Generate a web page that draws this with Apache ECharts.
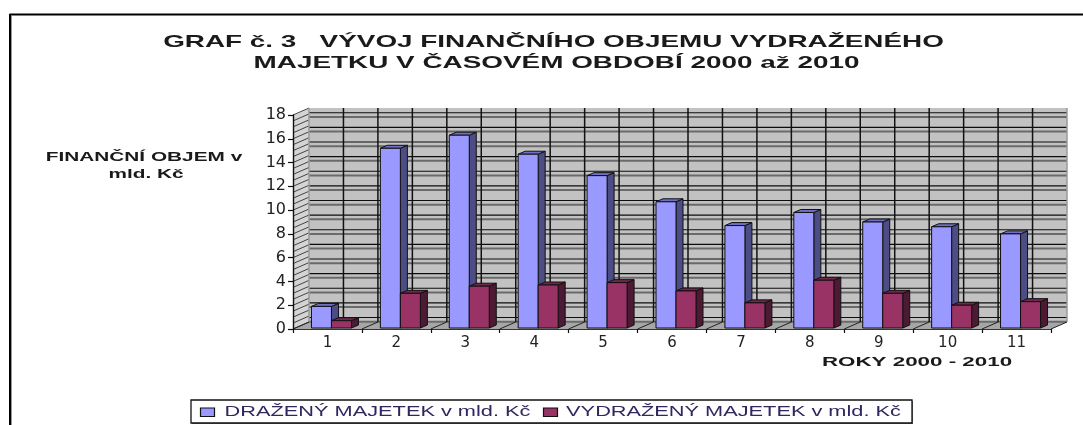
<!DOCTYPE html>
<html><head><meta charset="utf-8">
<style>html,body{margin:0;padding:0;background:#fff}#c{width:1083px;height:425px}</style>
<script src="https://cdn.jsdelivr.net/npm/echarts@6/dist/echarts.min.js"></script>
</head><body><div id="c"></div>
<script>
const categories = ['1','2','3','4','5','6','7','8','9','10','11'];
const drazeny = [1.9,15.2,16.3,14.7,12.9,10.7,8.7,9.8,9.0,8.6,8.0];
const vydrazeny = [0.7,3.0,3.6,3.7,3.9,3.2,2.2,4.1,3.0,2.0,2.3];
const sideLevels = [0,0.5,1,1.5,2,2.5,3,3.5,4,4.5,5,5.5,6,6.5,7,7.5,8,8.5,9,9.5,10,10.5,11,11.5,12,12.5,13,13.5,14,14.5,15,15.5,16,16.5,17,17.5,18];
const wallBlack = [17.6,16.37,15.14,13.91,12.68,11.45,10.22,8.99,7.76,6.53,5.3,4.07,2.84,1.61,0.38];
const wallGray = [17.25,16.02,14.79,13.56,12.33,11.1,9.87,8.64,7.41,6.18,4.95,3.72,2.49,1.26,0.03];
const titleLines = ['GRAF č. 3   VÝVOJ FINANČNÍHO OBJEMU VYDRAŽENÉHO','MAJETKU V ČASOVÉM OBDOBÍ 2000 až 2010'];
const yName = ['FINANČNÍ OBJEM v','mld. Kč'];
const xName = 'ROKY 2000 - 2010';
const seriesNames = ['DRAŽENÝ MAJETEK v mld. Kč','VYDRAŽENÝ MAJETEK v mld. Kč'];
const seriesColors = ['#9999ff','#993366'];

const WALL_DX = 16, WALL_DY = -7, BAR_DX = 7, BAR_DY = -3, BAR_W = 20, BAR_SHIFT = 4;

function wallItem(params, api){
  const cs = params.coordSys, kids = [];
  const x0 = cs.x, x1 = cs.x + cs.width;
  const yb = cs.y + cs.height, yt = cs.y;
  const poly = (pts, fill) => ({type:'polygon',shape:{points:pts},style:{fill,stroke:null},silent:true});
  kids.push(poly([[x0+WALL_DX,yt+WALL_DY],[x1+WALL_DX,yt+WALL_DY],[x1+WALL_DX,yb+WALL_DY],[x0+WALL_DX,yb+WALL_DY]],'#c2c2c2'));
  kids.push(poly([[x0,yt],[x0+WALL_DX,yt+WALL_DY],[x0+WALL_DX,yb+WALL_DY],[x0,yb]],'#d4d4d4'));
  kids.push(poly([[x0,yb],[x0+WALL_DX,yb+WALL_DY],[x1+WALL_DX,yb+WALL_DY],[x1,yb]],'#a6a6a6'));
  const hline = (v,stroke,lineWidth) => {
    const y = api.coord([0,v])[1];
    kids.push({type:'line',shape:{x1:x0+WALL_DX,y1:y+WALL_DY,x2:x1+WALL_DX,y2:y+WALL_DY},style:{stroke,lineWidth},silent:true});
  };
  wallGray.forEach(v => hline(v,'#6a6a6a',2));
  wallBlack.forEach(v => hline(v,'#0d0d0d',1.2));
  sideLevels.forEach(v => {
    const y = api.coord([0,v])[1];
    kids.push({type:'line',shape:{x1:x0,y1:y,x2:x0+WALL_DX,y2:y+WALL_DY},style:{stroke:'#333',lineWidth:0.9},silent:true});
  });
  const band = cs.width / categories.length;
  for(let i=0;i<=categories.length*2;i++){
    const x = x0 + WALL_DX + i*band/2;
    const edge = i===categories.length*2;
    kids.push({type:'line',shape:{x1:x,y1:yt+WALL_DY,x2:x,y2:yb+WALL_DY},
      style:{stroke:edge||i===0?'#9a9a9a':'#111',lineWidth:1.5},silent:true});
  }
  for(let i=0;i<=categories.length;i++){
    const x = x0 + i*band;
    kids.push({type:'line',shape:{x1:x,y1:yb,x2:x+WALL_DX,y2:yb+WALL_DY},style:{stroke:'#222',lineWidth:1},silent:true});
  }
  return {type:'group',children:kids};
}
function barItem(side, front, dark, top){
  return function(params, api){
    const i = api.value(0), v = api.value(1);
    const p = api.coord([i,v]), b = api.coord([i,0]);
    const xl = (side===0 ? p[0]-BAR_W : p[0]) + BAR_SHIFT, xr = xl + BAR_W;
    const yt = p[1], yb = b[1]-1;
    const st = f => ({fill:f,stroke:'#111',lineWidth:1});
    return {type:'group',children:[
      {type:'polygon',shape:{points:[[xr,yt],[xr+BAR_DX,yt+BAR_DY],[xr+BAR_DX,yb+BAR_DY],[xr,yb]]},style:st(dark)},
      {type:'polygon',shape:{points:[[xl,yt],[xl+BAR_DX,yt+BAR_DY],[xr+BAR_DX,yt+BAR_DY],[xr,yt]]},style:st(top)},
      {type:'rect',shape:{x:xl,y:yt,width:BAR_W,height:yb-yt},style:st(front)}
    ]};
  };
}
const txt = (s,x,y,size,sx,weight,fill) => ({type:'text',x,y,scaleX:sx,z:20,silent:true,
  style:{text:s,x:0,y:0,fill:fill||'#1a1a1a',font:(weight||'bold')+' '+size+'px "Liberation Sans"',textAlign:'center',textVerticalAlign:'middle'}});
const swatch = (x,c) => ({type:'rect',z:20,silent:true,shape:{x,y:408,width:14,height:8.5},style:{fill:c,stroke:'#111',lineWidth:1.2}});

const chart = echarts.init(document.getElementById('c'),null,{renderer:'canvas'});
chart.setOption({
  animation:false,
  backgroundColor:'#fff',
  grid:{left:293,right:32,top:115,bottom:96},
  xAxis:{type:'category',data:categories,z:5,
    axisLine:{lineStyle:{color:'#333',width:1}},
    axisTick:{show:true,alignWithLabel:false,length:4,lineStyle:{color:'#111',width:1.2}},
    axisLabel:{color:'#222',fontFamily:'DejaVu Sans',fontSize:15,margin:7},
    splitLine:{show:false}},
  yAxis:{type:'value',min:0,max:18,interval:2,z:5,
    axisLine:{show:true,lineStyle:{color:'#111',width:1.4}},
    axisTick:{show:true,length:5,lineStyle:{color:'#111',width:1.2}},
    axisLabel:{color:'#222',fontFamily:'DejaVu Sans',fontSize:16,margin:7},
    splitLine:{show:false}},
  series:[
    {type:'custom',name:'wall',z:1,silent:true,data:[[0,18]],renderItem:wallItem},
    {type:'custom',name:seriesNames[0],z:6,data:drazeny.map((v,i)=>[i,v]),encode:{x:0,y:1},
      itemStyle:{color:seriesColors[0]},
      renderItem:barItem(0,seriesColors[0],'#4d4d85','#6f6fc4')},
    {type:'custom',name:seriesNames[1],z:7,data:vydrazeny.map((v,i)=>[i,v]),encode:{x:0,y:1},
      itemStyle:{color:seriesColors[1]},
      renderItem:barItem(1,seriesColors[1],'#4d1a33','#73264d')}
  ],
  graphic:{elements:[
    {type:'line',silent:true,shape:{x1:9.5,y1:14.5,x2:1083,y2:14.5},style:{stroke:'#000',lineWidth:2}},
    {type:'line',silent:true,shape:{x1:10,y1:14,x2:10,y2:425},style:{stroke:'#000',lineWidth:2}},
    {type:'line',silent:true,shape:{x1:11.5,y1:16,x2:11.5,y2:425},style:{stroke:'#999',lineWidth:1}},
    txt(titleLines[0],553.5,42,17,1.64),
    txt(titleLines[1],556.5,63,17,1.64),
    txt(yName[0],144,157,13,1.6),
    txt(yName[1],146,174,13,1.6),
    txt(xName,917,362,13,1.72),
    {type:'rect',z:19,silent:true,shape:{x:192,y:401,width:721,height:23},style:{fill:'#777',stroke:null}},
    {type:'rect',z:19,silent:true,shape:{x:191,y:400,width:721,height:23},style:{fill:'#fff',stroke:'#111',lineWidth:1.3}},
    swatch(200.5,seriesColors[0]),
    txt(seriesNames[0],377.5,411.5,14.5,1.5,'normal','#2f2760'),
    swatch(543.5,seriesColors[1]),
    txt(seriesNames[1],733.5,411.5,14.5,1.5,'normal','#2f2760')
  ]}
});
</script></body></html>
